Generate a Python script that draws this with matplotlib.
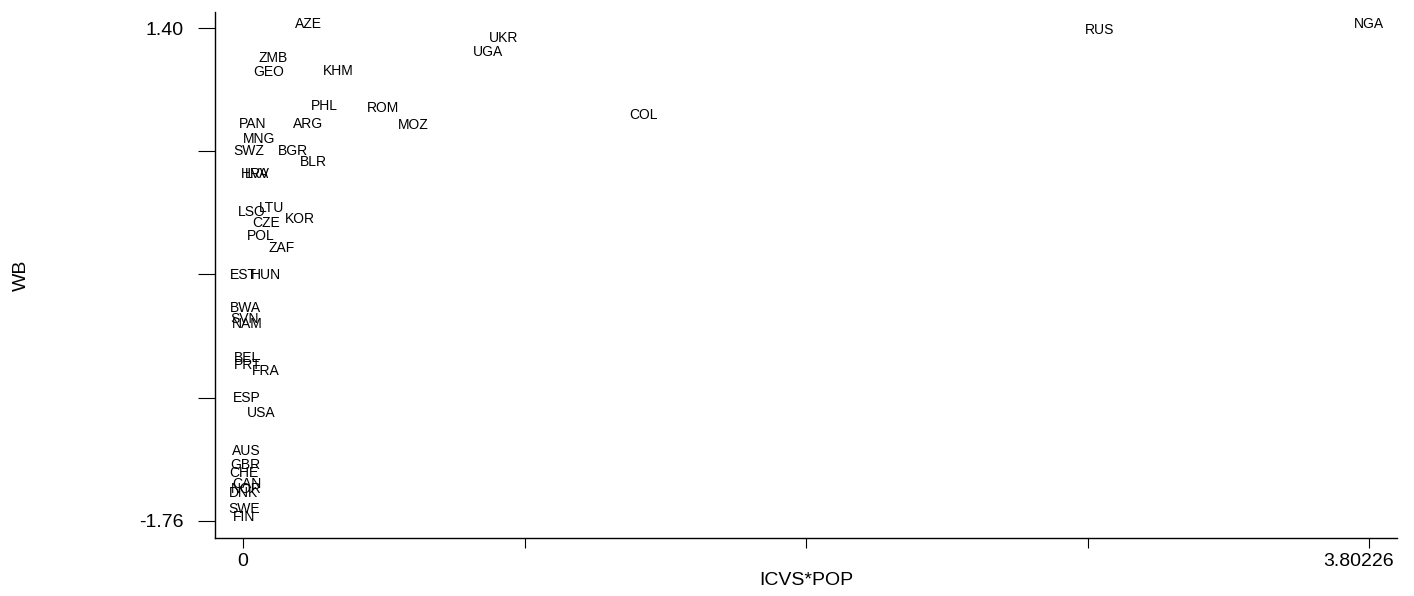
import numpy as np
import matplotlib
matplotlib.use("Agg")
import matplotlib.pyplot as plt
import matplotlib.transforms as mtransforms

plt.rcParams['font.family'] = ['Liberation Sans', 'DejaVu Sans']

# country codes with their ICVS*POP and WB values
countries = ["AZE", "ZMB", "GEO", "KHM", "PHL", "ROM", "MOZ", "PAN", "ARG", "MNG",
             "SWZ", "BGR", "BLR", "HRV", "LVA", "LSO", "LTU", "CZE", "KOR", "POL",
             "ZAF", "EST", "HUN", "BWA", "SVN", "NAM", "BEL", "PRT", "FRA", "ESP",
             "USA", "AUS", "GBR", "CHE", "CAN", "NOR", "DNK", "SWE", "FIN",
             "UKR", "UGA", "COL", "RUS", "NGA"]
icvs_pop = [0.2195, 0.1013, 0.0878, 0.3208, 0.2735, 0.4727, 0.574, 0.0338, 0.2195, 0.054,
            0.020, 0.169, 0.236, 0.041, 0.047, 0.030, 0.095, 0.078, 0.192, 0.061,
            0.132, 0.0, 0.078, 0.007, 0.007, 0.014, 0.014, 0.017, 0.078, 0.014,
            0.061, 0.010, 0.007, 0.003, 0.014, 0.010, 0.003, 0.003, 0.003,
            0.881, 0.827, 1.354, 2.894, 3.80226]
wb = [1.40, 1.182, 1.092, 1.099, 0.874, 0.862, 0.753, 0.759, 0.759, 0.663,
      0.586, 0.586, 0.515, 0.438, 0.438, 0.195, 0.221, 0.124, 0.150, 0.041,
      -0.036, -0.209, -0.209, -0.421, -0.491, -0.523, -0.741, -0.786, -0.824, -0.997,
      -1.094, -1.337, -1.427, -1.478, -1.549, -1.581, -1.606, -1.709, -1.76,
      1.310, 1.220, 0.817, 1.362, 1.40]

xmin, xmax = 0.0, 3.80226
ymin, ymax = -1.76, 1.40
x_ticks = np.linspace(xmin, xmax, 5)
x_ticklabels = ["0", "", "", "", "3.80226"]
y_ticks = np.linspace(ymin, ymax, 5)
y_ticklabels = ["-1.76", "", "", "", "1.40"]

fig = plt.figure(figsize=(14.14, 5.96), dpi=100)
ax = fig.add_axes([0.15205, 0.09732, 0.83593, 0.88255])

# labels only, no markers
for c, x, y in zip(countries, icvs_pop, wb):
    ax.text(x, y, c, ha="center", va="baseline", fontsize=10, color="black")

ax.set_xlim(-0.09455, 3.8968)
ax.set_ylim(-1.869, 1.5026)

ax.set_xticks(x_ticks)
ax.set_xticklabels(x_ticklabels)
ax.set_yticks(y_ticks)
ax.set_yticklabels(y_ticklabels)
ax.tick_params(axis="x", length=7.2, width=0.8, pad=3.5, labelsize=14)
ax.tick_params(axis="y", length=12.5, width=0.8, pad=10, labelsize=14, colors="black")

# shift the last x label left a bit so it stays inside the figure
lab = ax.get_xticklabels()[-1]
lab.set_transform(lab.get_transform() + mtransforms.ScaledTranslation(-0.10, 0, fig.dpi_scale_trans))

ax.spines[["top", "right"]].set_visible(False)
ax.spines[["left", "bottom"]].set_linewidth(1.0)

ax.set_xlabel("ICVS*POP", fontsize=14, va="center")
ax.xaxis.set_label_coords(0.5, -0.0799)
ax.set_ylabel("WB", fontsize=14, va="center")
ax.yaxis.set_label_coords(-0.1641, 0.5)

fig.savefig("out.png", dpi=100)
